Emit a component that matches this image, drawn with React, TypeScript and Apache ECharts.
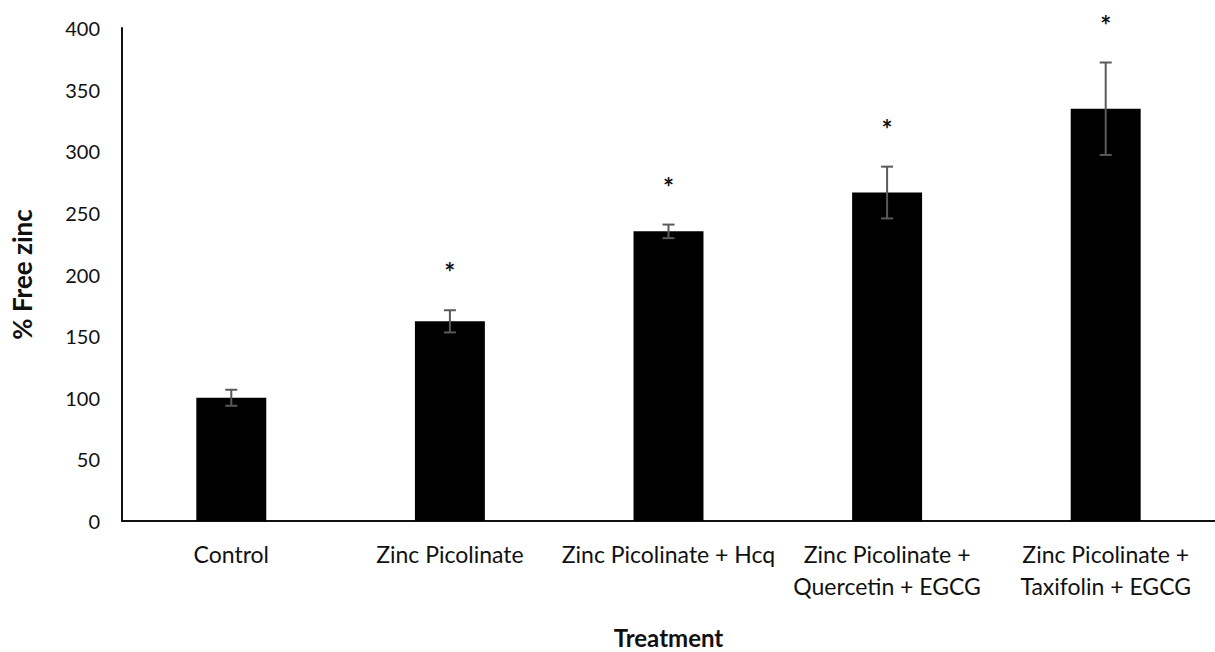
import React, { useEffect, useRef } from "react";
import * as echarts from "echarts";

const categories = [
  "Control",
  "Zinc Picolinate",
  "Zinc Picolinate + Hcq",
  "Zinc Picolinate +\nQuercetin + EGCG",
  "Zinc Picolinate +\nTaxifolin + EGCG",
];
const means = [100, 162, 235, 266.5, 334.5];
const errors = [6.5, 9, 5.5, 21, 37.5];
const significant = [false, true, true, true, true];
const yTicks = { min: 0, max: 400, interval: 50 };

const FONT = "Lato, 'Open Sans', sans-serif";

export default function App() {
  const ref = useRef<HTMLDivElement>(null);
  useEffect(() => {
    if (!ref.current) return;
    const chart = echarts.init(ref.current, undefined, { renderer: "svg" });
    const errData = means.map((m, i) => [i, m - errors[i], m + errors[i], significant[i] ? 1 : 0]);
    chart.setOption({
      animation: false,
      backgroundColor: "#ffffff",
      grid: {
        left: 122,
        top: 28,
        right: 0,
        bottom: 131,
        containLabel: false,
        outerBoundsMode: "none",
      },
      xAxis: {
        type: "category",
        data: categories,
        name: "Treatment",
        nameLocation: "middle",
        nameGap: 104,
        nameTextStyle: { fontFamily: FONT, fontSize: 24, fontWeight: "bold", color: "#111" },
        axisLine: { lineStyle: { color: "#111", width: 2 } },
        axisTick: { show: false },
        axisLabel: {
          fontFamily: FONT,
          fontSize: 23,
          color: "#111",
          margin: 17,
          lineHeight: 32,
          interval: 0,
          verticalAlign: "top",
        },
      },
      yAxis: {
        type: "value",
        min: yTicks.min,
        max: yTicks.max,
        interval: yTicks.interval,
        name: "% Free zinc",
        nameLocation: "middle",
        nameGap: 87,
        nameTextStyle: { fontFamily: FONT, fontSize: 26, fontWeight: "bold", color: "#111" },
        axisLine: { show: true, lineStyle: { color: "#111", width: 2 } },
        axisTick: { show: false },
        splitLine: { show: false },
        axisLabel: { fontFamily: FONT, fontSize: 20, color: "#111", margin: 22 },
      },
      series: [
        {
          type: "bar",
          data: means,
          barWidth: "32%",
          itemStyle: { color: "#000" },
        },
        {
          type: "custom",
          data: errData,
          clip: false,
          z: 10,
          renderItem: (params: any, api: any) => {
            const x = api.value(0);
            const lo = api.coord([x, api.value(1)]);
            const hi = api.coord([x, api.value(2)]);
            const cap = 6;
            const style = { stroke: "#5a5a5a", lineWidth: 2 };
            const children: any[] = [
              { type: "line", shape: { x1: lo[0], y1: lo[1], x2: hi[0], y2: hi[1] }, style },
              { type: "line", shape: { x1: lo[0] - cap, y1: lo[1], x2: lo[0] + cap, y2: lo[1] }, style },
              { type: "line", shape: { x1: hi[0] - cap, y1: hi[1], x2: hi[0] + cap, y2: hi[1] }, style },
            ];
            if (api.value(3)) {
              children.push({
                type: "text",
                x: hi[0],
                y: hi[1] - 38,
                style: {
                  text: "*",
                  fontFamily: FONT,
                  fontSize: 26,
                  fontWeight: "bold",
                  fill: "#111",
                  align: "center",
                  verticalAlign: "middle",
                },
              });
            }
            return { type: "group", children };
          },
        },
      ],
    });
    return () => chart.dispose();
  }, []);
  return (
    <div
      ref={ref}
      style={{ position: "fixed", left: 0, top: 0, width: 1215, height: 652, background: "#fff" }}
    />
  );
}
